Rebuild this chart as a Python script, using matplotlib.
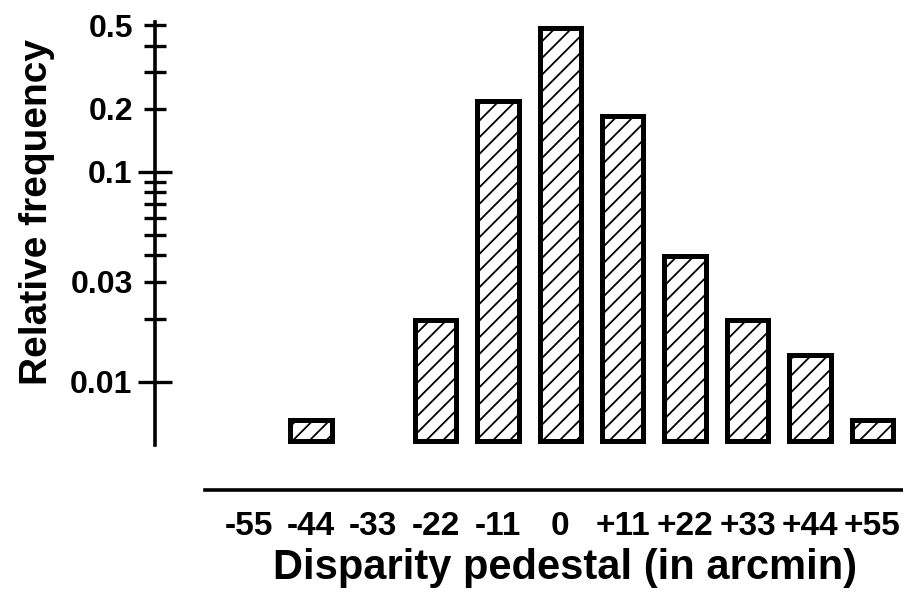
import matplotlib.pyplot as plt
import numpy as np

# Disparity pedestal (arcmin) and relative frequency
pedestal = [-55, -44, -33, -22, -11, 0, 11, 22, 33, 44, 55]
freq = [np.nan, 0.0066, np.nan, 0.0196, 0.217, 0.487, 0.184, 0.0397, 0.0196, 0.0134, 0.0066]
xtick_labels = ['-55', '-44', '-33', '-22', '-11', '0', '+11', '+22', '+33', '+44', '+55']

major_y = [0.01, 0.1]
major_y_labels = ['0.01', '0.1']
minor_y = [0.02, 0.03, 0.04, 0.05, 0.06, 0.07, 0.08, 0.09, 0.2, 0.3, 0.4, 0.5]
minor_y_labels = ['', '0.03', '', '', '', '', '', '', '0.2', '', '', '0.5']

plt.rcParams['font.family'] = ['Liberation Sans', 'DejaVu Sans']
plt.rcParams['font.weight'] = 'bold'
plt.rcParams['hatch.linewidth'] = 1.3
plt.rcParams['hatch.color'] = 'black'

base = 0.0052

fig = plt.figure(figsize=(9.04, 5.95), dpi=100)
ax = fig.add_axes([155 / 904, 150 / 595, 749 / 904, 423 / 595])

mask = [not np.isnan(f) for f in freq]
xs = [p for p, m in zip(pedestal, mask) if m]
hs = [f - base for f, m in zip(freq, mask) if m]
ax.bar(xs, hs, bottom=base, width=7.3, facecolor='white', edgecolor='black',
       linewidth=3.6, hatch='//')

ax.set_yscale('log')
ax.set_ylim(0.005, 0.518)
ax.set_xlim(-71.5, 60.6)

# y axis: long ticks at decades, shorter ones elsewhere
ax.set_yticks(major_y, major_y_labels)
ax.set_yticks(minor_y, minor_y_labels, minor=True)
ax.tick_params(axis='y', which='major', direction='inout', length=25, width=2.4,
               pad=4, labelsize=23)
ax.tick_params(axis='y', which='minor', direction='inout', length=16, width=2.4,
               pad=8, labelsize=23)

# x axis drawn as a detached line below the bars
ax.set_xticks(pedestal, xtick_labels)
ax.tick_params(axis='x', which='both', length=0, pad=15, labelsize=24)
ax.spines['bottom'].set_position(('outward', 32.4))
ax.spines['bottom'].set_bounds(-62.7, 60.6)
ax.spines['bottom'].set_linewidth(2.6)
ax.spines['left'].set_linewidth(2.6)
ax.spines['top'].set_visible(False)
ax.spines['right'].set_visible(False)

ax.set_ylabel('Relative frequency', fontsize=28, fontweight='bold')
ax.yaxis.set_label_coords(-0.133, 0.551)
ax.set_xlabel('Disparity pedestal (in arcmin)', fontsize=30, fontweight='bold')
ax.xaxis.set_label_coords(0.547, -0.243)

fig.savefig('out.png', dpi=100)
